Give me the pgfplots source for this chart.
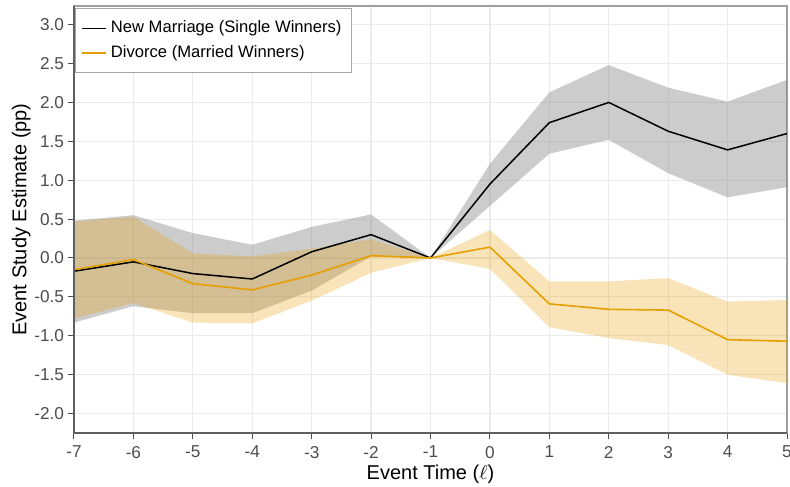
\documentclass[border=0pt]{standalone}
\usepackage{pgfplots}
\pgfplotsset{compat=1.18}
\usepgfplotslibrary{fillbetween}
\usepackage{fontspec}
\setmainfont{Liberation Sans}
\definecolor{okorange}{HTML}{E69F00}
\definecolor{tickgray}{HTML}{4D4D4D}
\definecolor{gridgray}{HTML}{EBEBEB}
\begin{document}
\begin{tikzpicture}
\begin{axis}[
  name=ax,
  scale only axis,
  width=356.5pt, height=213.5pt,
  xmin=-7, xmax=5, ymin=-2.25, ymax=3.24,
  xtick={-7,-6,-5,-4,-3,-2,-1,0,1,2,3,4,5},
  xticklabels={-7,-6,-5,-4,-3,-2,-1,0,1,2,3,4,5},
  ytick={-2,-1.5,-1,-0.5,0,0.5,1,1.5,2,2.5,3},
  yticklabels={-2.0,-1.5,-1.0,-0.5,0.0,0.5,1.0,1.5,2.0,2.5,3.0},
  xtick pos=bottom, ytick pos=left,
  tick align=outside,
  major tick length=3pt,
  tick style={color=tickgray, line width=0.5pt},
  ticklabel style={font=\fontsize{8.6}{9}\selectfont, text=tickgray},
  yticklabel style={xshift=1.5pt},
  xlabel={Event Time ($\ell$)},
  ylabel={Event Study Estimate (pp)},
  label style={font=\fontsize{10}{12}\selectfont},
  xlabel style={yshift=3.5pt},
  ylabel style={yshift=-5pt},
  grid=major,
  major grid style={color=gridgray, line width=0.6pt},
  axis line style={color=gray!75, line width=0.6pt},
  legend cell align=left,
  legend style={at={(0.001,0.995)}, anchor=north west, draw=gray!70, line width=0.6pt,
    font=\fontsize{8.3}{9}\selectfont, fill=white, inner xsep=3pt, inner ysep=4pt,
    row sep=1pt},
  legend image code/.code={\draw[#1] (0pt,0pt) -- (8.5pt,0pt); \path (0pt,0pt) -- (12pt,0pt);},
  after end axis/.code={
    \draw[color=tickgray!90, line width=0.6pt] (rel axis cs:0,1) -- (rel axis cs:0,0) -- (rel axis cs:1,0);
  },
]
% black band
\addplot[name path=bu, draw=none, forget plot] coordinates {
(-7,0.48) (-6,0.55) (-5,0.32) (-4,0.17) (-3,0.40) (-2,0.56) (-1,0) (0,1.21) (1,2.13) (2,2.48) (3,2.19) (4,2.01) (5,2.29)};
\addplot[name path=bl, draw=none, forget plot] coordinates {
(-7,-0.83) (-6,-0.62) (-5,-0.71) (-4,-0.71) (-3,-0.42) (-2,0.02) (-1,0) (0,0.67) (1,1.34) (2,1.52) (3,1.09) (4,0.78) (5,0.91)};
\addplot[fill=black!50, fill opacity=0.4, draw=none, forget plot] fill between[of=bu and bl];
% orange band
\addplot[name path=ou, draw=none, forget plot] coordinates {
(-7,0.47) (-6,0.53) (-5,0.06) (-4,0.02) (-3,0.12) (-2,0.24) (-1,0) (0,0.36) (1,-0.30) (2,-0.30) (3,-0.26) (4,-0.56) (5,-0.54)};
\addplot[name path=ol, draw=none, forget plot] coordinates {
(-7,-0.78) (-6,-0.58) (-5,-0.83) (-4,-0.84) (-3,-0.55) (-2,-0.19) (-1,0) (0,-0.14) (1,-0.89) (2,-1.03) (3,-1.12) (4,-1.50) (5,-1.61)};
\addplot[fill=okorange, fill opacity=0.28, draw=none, forget plot] fill between[of=ou and ol];
% lines
\addplot[black, line width=0.75pt] coordinates {
(-7,-0.17) (-6,-0.05) (-5,-0.20) (-4,-0.27) (-3,0.08) (-2,0.30) (-1,0) (0,0.95) (1,1.74) (2,2.00) (3,1.63) (4,1.39) (5,1.60)};
\addlegendentry{New Marriage (Single Winners)}
\addplot[okorange, line width=0.8pt] coordinates {
(-7,-0.15) (-6,-0.02) (-5,-0.33) (-4,-0.41) (-3,-0.22) (-2,0.03) (-1,0) (0,0.14) (1,-0.59) (2,-0.66) (3,-0.67) (4,-1.05) (5,-1.07)};
\addlegendentry{Divorce (Married Winners)}
\end{axis}
\pgfresetboundingbox
\path (ax.south west) ++(-37pt,-27pt) coordinate (bbsw);
\path (ax.north east) ++(1.5pt,3pt) coordinate (bbne);
\path[use as bounding box] (bbsw) rectangle (bbne);
\end{tikzpicture}
\end{document}
